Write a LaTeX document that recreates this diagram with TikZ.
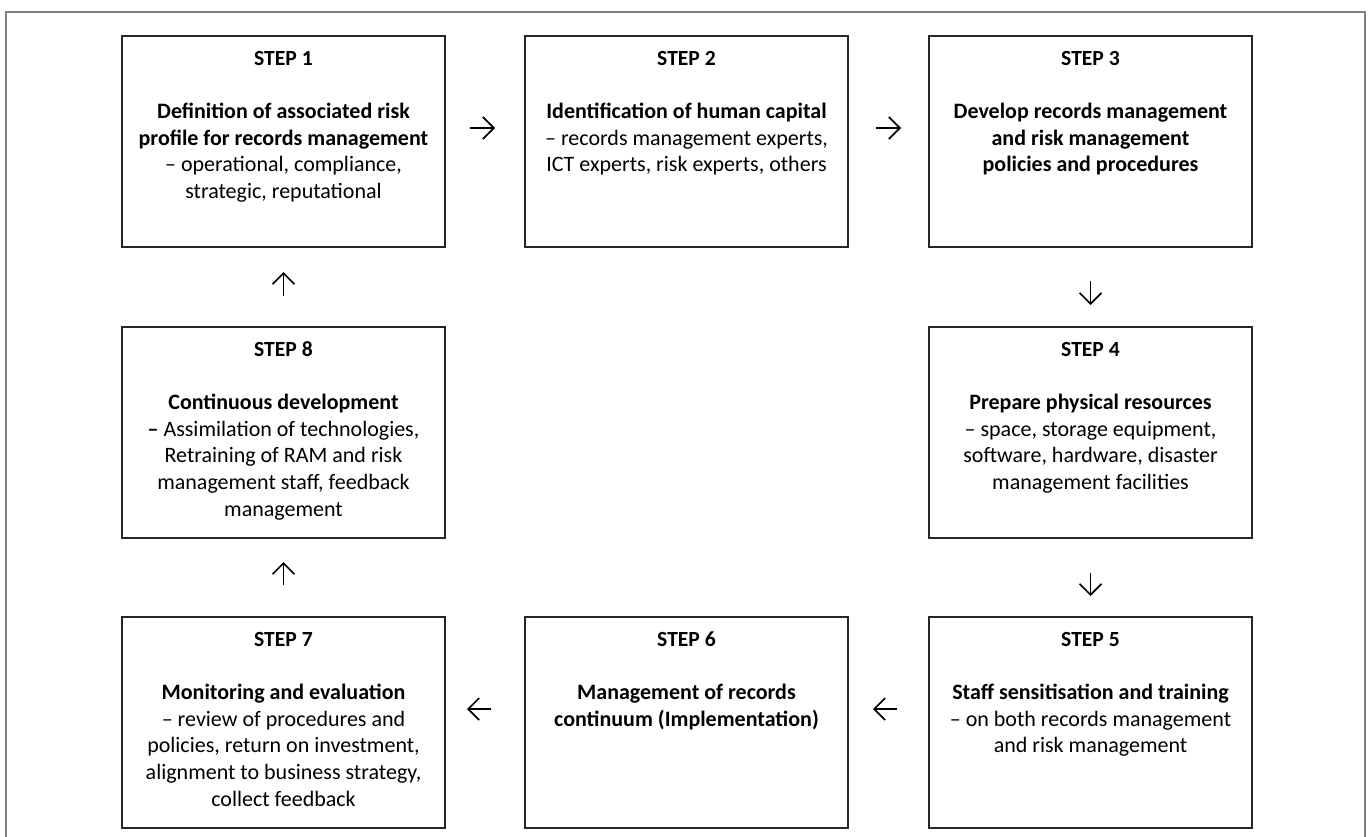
\documentclass[tikz,border=0pt]{standalone}
\usepackage{fontspec}
\setmainfont{Carlito}
\usetikzlibrary{arrows.meta}

% box contents: step number, then the text below it
\newcommand{\steptext}[2]{%
  \begin{minipage}[t][105.5pt][t]{158pt}\centering
    {\fontsize{10.8}{12}\selectfont\bfseries\rule{0pt}{14.7pt}STEP #1\par}
    \vspace{13.3pt}
    {\fontsize{11}{13.3}\selectfont #2\par}
  \end{minipage}}

\begin{document}
\begin{tikzpicture}[x=0.5pt,y=-0.5pt]
        \useasboundingbox (0,0) rectangle (1370,836);
        \draw[black!50,line width=0.6pt] (6,850) -- (6,12) -- (1365,12) -- (1365,850);
        \begin{scope}[every node/.style={draw=black!85,line width=1pt,inner sep=0pt,
            minimum width=161.5pt,minimum height=105.5pt}]
          \node (s1) at (283.5,141.5) {\steptext{1}{\textbf{Definition of associated risk\\profile for records management}\\– operational, compliance,\\strategic, reputational}};
          \node (s2) at (686.5,141.5) {\steptext{2}{\textbf{Identification of human capital}\\– records management experts,\\ICT experts, risk experts, others}};
          \node (s3) at (1090.5,141.5) {\steptext{3}{\textbf{Develop records management\\and risk management\\policies and procedures}}};
          \node (s4) at (1090.5,432.5) {\steptext{4}{\textbf{Prepare physical resources}\\– space, storage equipment,\\software, hardware, disaster\\management facilities}};
          \node (s5) at (1090.5,722.5) {\steptext{5}{\textbf{Staff sensitisation and training}\\– on both records management\\and risk management}};
          \node (s6) at (686.5,722.5) {\steptext{6}{\textbf{Management of records\\continuum (Implementation)}}};
          \node (s7) at (283.5,722.5) {\steptext{7}{\textbf{Monitoring and evaluation}\\– review of procedures and\\policies, return on investment,\\alignment to business strategy,\\collect feedback}};
          \node (s8) at (283.5,432.5) {\steptext{8}{\textbf{Continuous development\\–} Assimilation of technologies,\\Retraining of RAM and risk\\management staff, feedback\\management}};
        \end{scope}
        \begin{scope}[every edge/.style={draw=black,line width=0.85pt,
            -{Straight Barb[length=5.5pt,width=11pt]}}]
          \path ([yshift=6.75pt]s1.east) edge[shorten <=12pt,shorten >=14.5pt] ([yshift=6.75pt]s2.west);
          \path ([yshift=6.75pt]s2.east) edge[shorten <=13.5pt,shorten >=13.5pt] ([yshift=6.75pt]s3.west);
          \path (s3.south) edge[shorten <=16.5pt,shorten >=10.5pt] (s4.north);
          \path (s4.south) edge[shorten <=17pt,shorten >=10pt] (s5.north);
          \path ([yshift=6.75pt]s5.west) edge[shorten <=15.5pt,shorten >=12pt] ([yshift=6.75pt]s6.east);
          \path ([yshift=6.75pt]s6.west) edge[shorten <=16.5pt,shorten >=10.5pt] ([yshift=6.75pt]s7.east);
          \path (s7.north) edge[shorten <=15.5pt,shorten >=11.5pt] (s8.south);
          \path (s8.north) edge[shorten <=15pt,shorten >=12pt] (s1.south);
        \end{scope}
      \end{tikzpicture}
\end{document}
